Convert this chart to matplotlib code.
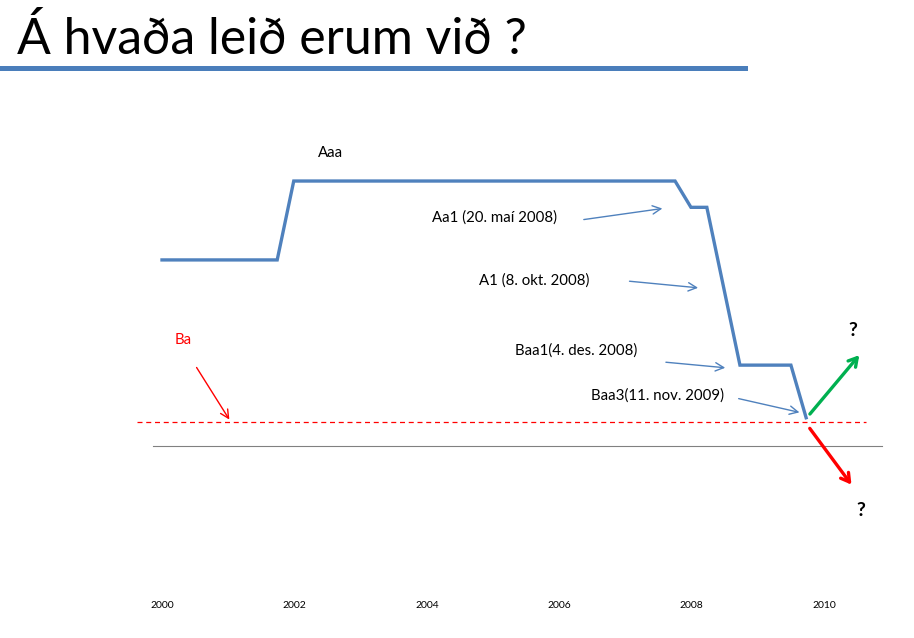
import matplotlib
matplotlib.use('Agg')
import matplotlib.pyplot as plt

plt.rcParams['font.family'] = ['Lato', 'DejaVu Sans']

BLUE = '#4f81bd'

# Moody's rating path, y = notches below Aaa (Aaa=0, Aa1=1, ... Baa3=9, Ba1=10)
years = [2000, 2001.74, 2001.99, 2007.75, 2007.99, 2008.23, 2008.73, 2009.50, 2009.73]
notches = [3, 3, 0, 0, 1, 1, 7, 7, 9]
tick_years = [2000, 2002, 2004, 2006, 2008, 2010]

# investment-grade threshold and Ba line
threshold = 9.16
ba_level = 10.08

# labelled downgrades: (text, text pos, arrow start, arrow end)
downgrades = [
    ('Aa1 (20. maí 2008)', (2005.02, 1.37), (2006.33, 1.48), (2007.60, 1.03)),
    ('A1 (8. okt. 2008)', (2005.62, 3.80), (2007.02, 3.80), (2008.14, 4.07)),
    ('Baa1(4. des. 2008)', (2006.25, 6.46), (2007.57, 6.88), (2008.55, 7.11)),
    ('Baa3(11. nov. 2009)', (2007.49, 8.14), (2008.67, 8.25), (2009.67, 8.82)),
]

fig = plt.figure(figsize=(9.14, 6.38), dpi=100)

# slide title + bar
fig.text(17 / 914, 1 - 39 / 638, 'Á hvaða leið erum við ?', fontsize=36,
         va='center', ha='left', color='black')
fig.add_artist(plt.Rectangle((0, 1 - 71 / 638), 748 / 914, 5 / 638,
                             transform=fig.transFigure, color='#4a7ebb', lw=0))

ax = fig.add_axes([153 / 914, 1 - 595 / 638, 729 / 914, 465 / 638])
ax.set_xlim(1999.864, 2010.876)
ax.set_ylim(15.74, -1.94)
for s in ax.spines.values():
    s.set_visible(False)
ax.set_yticks([])
ax.set_xticks(tick_years)
ax.set_xticklabels([str(y) for y in tick_years], fontsize=7.5)
ax.tick_params(axis='x', length=0, pad=4)

ax.plot(years, notches, color=BLUE, lw=2.4, solid_joinstyle='miter')

ax.plot([1999.62, 2010.63], [threshold, threshold], color='red', lw=0.9,
        ls=(0, (4, 3)), clip_on=False)
ax.plot([1999.86, 2010.88], [ba_level, ba_level], color='#808080', lw=0.8,
        clip_on=False)

ax.text(2002.54, -1.06, 'Aaa', fontsize=10.8, ha='center', va='center')

for label, tpos, a0, a1 in downgrades:
    ax.text(tpos[0], tpos[1], label, fontsize=10.8, ha='center', va='center')
    ax.annotate('', xy=a1, xytext=a0,
                arrowprops=dict(arrowstyle='->,head_length=0.6,head_width=0.3',
                                color=BLUE, lw=1.0))

ax.text(2000.32, 6.05, 'Ba', fontsize=10.8, ha='center', va='center', color='red')
ax.annotate('', xy=(2001.04, 9.16), xytext=(2000.50, 7.0),
            arrowprops=dict(arrowstyle='->,head_length=0.6,head_width=0.3',
                            color='red', lw=1.0))

# possible directions
ax.annotate('', xy=(2010.56, 6.54), xytext=(2009.76, 8.94),
            arrowprops=dict(arrowstyle='->,head_length=0.6,head_width=0.35',
                            color='#00b050', lw=2.4), annotation_clip=False)
ax.text(2010.44, 5.67, '?', fontsize=14, fontweight='bold', ha='center', va='center')
ax.annotate('', xy=(2010.44, 11.63), xytext=(2009.76, 9.32),
            arrowprops=dict(arrowstyle='->,head_length=0.6,head_width=0.35',
                            color='red', lw=2.4), annotation_clip=False)
ax.text(2010.56, 12.51, '?', fontsize=14, fontweight='bold', ha='center', va='center')

fig.savefig('out.png', dpi=100)
